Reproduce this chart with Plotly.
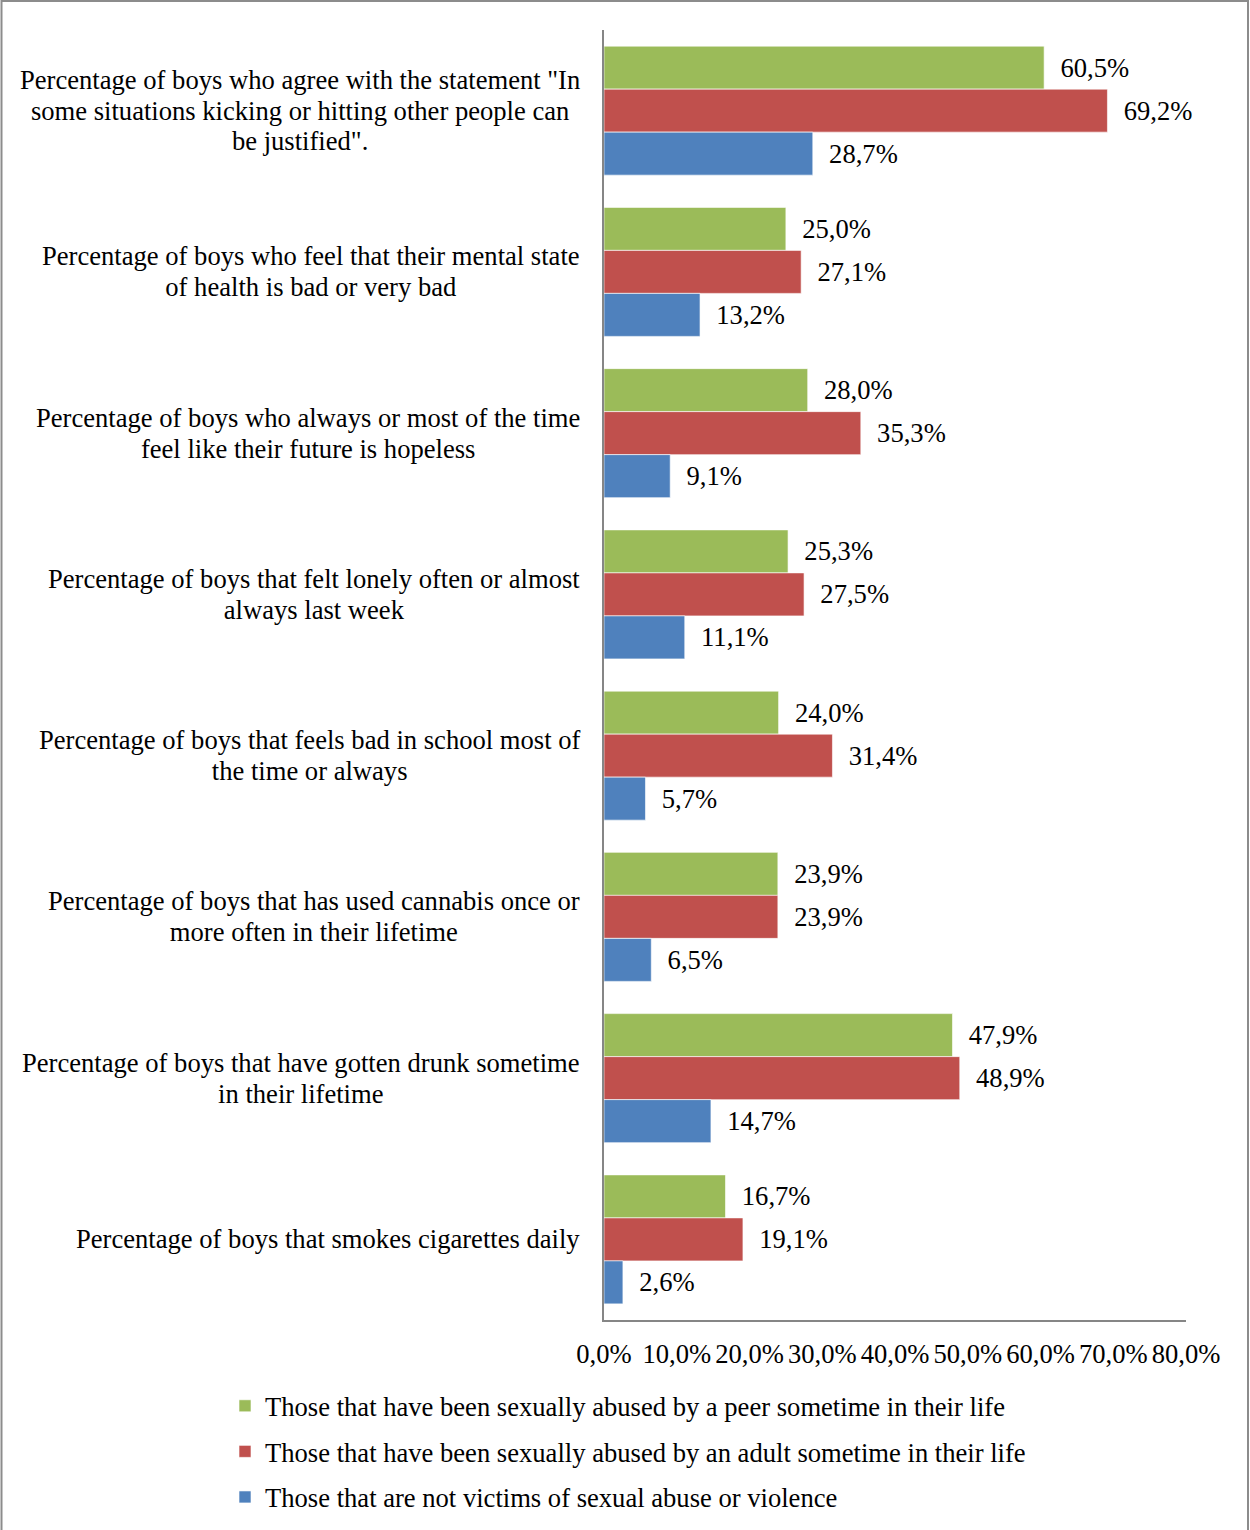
import plotly.graph_objects as go

# Indicator labels (one bar group per indicator), one entry per text line
categories = [
    ['Percentage of boys who agree with the statement "In',
     "some situations kicking or hitting other people can",
     'be justified".'],
    ["Percentage of boys who feel that their mental state",
     "of health is bad or very bad"],
    ["Percentage of boys who always or most of the time",
     "feel like their future is hopeless"],
    ["Percentage of boys that felt lonely often or almost",
     "always last week"],
    ["Percentage of boys that feels bad in school most of",
     "the time or always"],
    ["Percentage of boys that has used cannabis once or",
     "more often in their lifetime"],
    ["Percentage of boys that have gotten drunk sometime",
     "in their lifetime"],
    ["Percentage of boys that smokes cigarettes daily"],
]
keys = [f"c{i}" for i in range(len(categories))]

series_names = [
    "Those that have been sexually abused by a peer sometime in their life",
    "Those that have been sexually abused by an adult sometime in their life",
    "Those that are not victims of sexual abuse or violence",
]
peer_abused = [60.5, 25.0, 28.0, 25.3, 24.0, 23.9, 47.9, 16.7]
adult_abused = [69.2, 27.1, 35.3, 27.5, 31.4, 23.9, 48.9, 19.1]
not_victims = [28.7, 13.2, 9.1, 11.1, 5.7, 6.5, 14.7, 2.6]

colors = ["#9BBB59", "#C0504D", "#4F81BD"]
x_ticks = [0, 10, 20, 30, 40, 50, 60, 70, 80]
x_tick_text = [f"{v:.1f}%".replace(".", ",") for v in x_ticks]

FONT = "Liberation Serif, Times New Roman, serif"
FS = 26.6
LABEL_LINE_FS = 23.5  # base size that sets the line pitch of category labels

fig = go.Figure()
for i, (name, vals, col) in enumerate(zip(series_names, [peer_abused, adult_abused, not_victims], colors)):
    fig.add_trace(go.Bar(
        y=keys, x=vals, orientation="h", name=name,
        marker=dict(color=col, line=dict(color="rgba(255,255,255,0.6)", width=1)),
        texttemplate="\u00a0\u00a0%{x:.1f}%", textposition="outside",
        textfont=dict(family=FONT, size=FS, color="black"),
        constraintext="none", cliponaxis=False,
        legendgroup=f"g{i}",
    ))

# Centered multi-line category labels, right-aligned against the axis
for k, lines in zip(keys, categories):
    text = "<br>".join(f'<span style="font-size:{FS}px">{ln}</span>' for ln in lines)
    fig.add_annotation(
        x=0, xref="paper", y=k, yref="y", text=text, showarrow=False,
        xanchor="right", yanchor="middle", align="center", xshift=-22,
        font=dict(family=FONT, size=LABEL_LINE_FS, color="black"),
    )

# Outer frame
fig.add_shape(type="rect", xref="paper", yref="paper",
              x0=(1.5 - 604) / 582, x1=(1248 - 604) / 582,
              y0=(1320 - 1540) / 1290, y1=(1320 - 1) / 1290,
              line=dict(color="#8C8C8C", width=2), fillcolor="rgba(0,0,0,0)")

fig.update_layout(
    width=1250, height=1530,
    margin=dict(l=604, r=64, t=30, b=210, autoexpand=False),
    paper_bgcolor="white", plot_bgcolor="white",
    barmode="group", bargap=0.2, bargroupgap=0,
    separators=", ",
    font=dict(family=FONT, size=FS, color="black"),
    xaxis=dict(range=[0, 80], tickmode="array", tickvals=x_ticks, ticktext=x_tick_text,
               showgrid=False, zeroline=False, showline=True, linecolor="#868686",
               linewidth=2, ticks="", ticklabelstandoff=9, automargin=False,
               tickfont=dict(family=FONT, size=FS, color="black")),
    yaxis=dict(categoryorder="array", categoryarray=keys, autorange="reversed",
               showticklabels=False, showgrid=False, zeroline=False, showline=True,
               linecolor="#868686", linewidth=2, ticks="", automargin=False),
    legend=dict(orientation="v", x=(225 - 604) / 582, xanchor="left",
                yref="container", y=(1530 - 1382) / 1530, yanchor="top",
                traceorder="grouped", tracegroupgap=8,
                font=dict(family=FONT, size=FS, color="black"),
                bgcolor="rgba(0,0,0,0)"),
)

fig.write_html("out.html")
